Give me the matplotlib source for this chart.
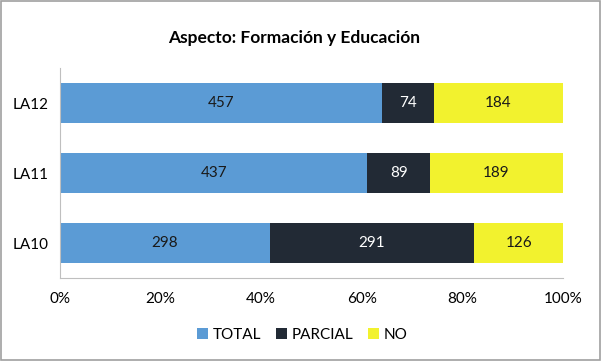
import numpy as np
import matplotlib.pyplot as plt

plt.rcParams['font.family'] = ['Lato', 'DejaVu Sans']

# data
categories = ["LA10", "LA11", "LA12"]
total = [298, 437, 457]
parcial = [291, 89, 74]
no = [126, 189, 184]
series = [("TOTAL", total, "#5B9BD5", "#1a1a1a"),
          ("PARCIAL", parcial, "#222A35", "white"),
          ("NO", no, "#F2F22E", "#1a1a1a")]

fig = plt.figure(figsize=(6.01, 3.61), dpi=100)
ax = fig.add_axes([0.0998, 0.2299, 0.837, 0.5817])

sums = np.array(total) + np.array(parcial) + np.array(no)
y = np.arange(len(categories))
left = np.zeros(len(categories))
for name, vals, color, tcolor in series:
    frac = np.array(vals) / sums
    bars = ax.barh(y, frac, left=left, height=0.57, color=color, label=name)
    for b, v in zip(bars, vals):
        ax.text(b.get_x() + b.get_width() / 2, b.get_y() + b.get_height() / 2,
                str(v), ha="center", va="center", fontsize=11, color=tcolor)
    left += frac

ax.set_xlim(0, 1)
ax.set_ylim(-0.5, 2.5)
ax.set_yticks(y)
ax.set_yticklabels(categories, fontsize=11)
ticks = np.linspace(0, 1, 6)
ax.set_xticks(ticks)
ax.set_xticklabels([f"{int(t*100)}%" for t in ticks], fontsize=11)
ax.tick_params(length=0, pad=10)
ax.tick_params(axis="y", pad=8)
for s in ["top", "right"]:
    ax.spines[s].set_visible(False)
for s in ["left", "bottom"]:
    ax.spines[s].set_color("#BFBFBF")

fig.text(0.49, 0.895, "Aspecto: Formación y Educación", ha="center", va="center",
         fontsize=12.5, fontweight="bold")
fig.legend(loc="center", bbox_to_anchor=(0.503, 0.072), ncol=3, frameon=False,
           fontsize=11, handlelength=0.7, handleheight=0.7, handletextpad=0.3,
           columnspacing=1.0)

border = plt.Rectangle((0.002, 0.003), 0.996, 0.994, transform=fig.transFigure,
                       fill=False, edgecolor="#A0A0A0", linewidth=1.2)
fig.patches.append(border)

fig.savefig("out.png", dpi=100)
